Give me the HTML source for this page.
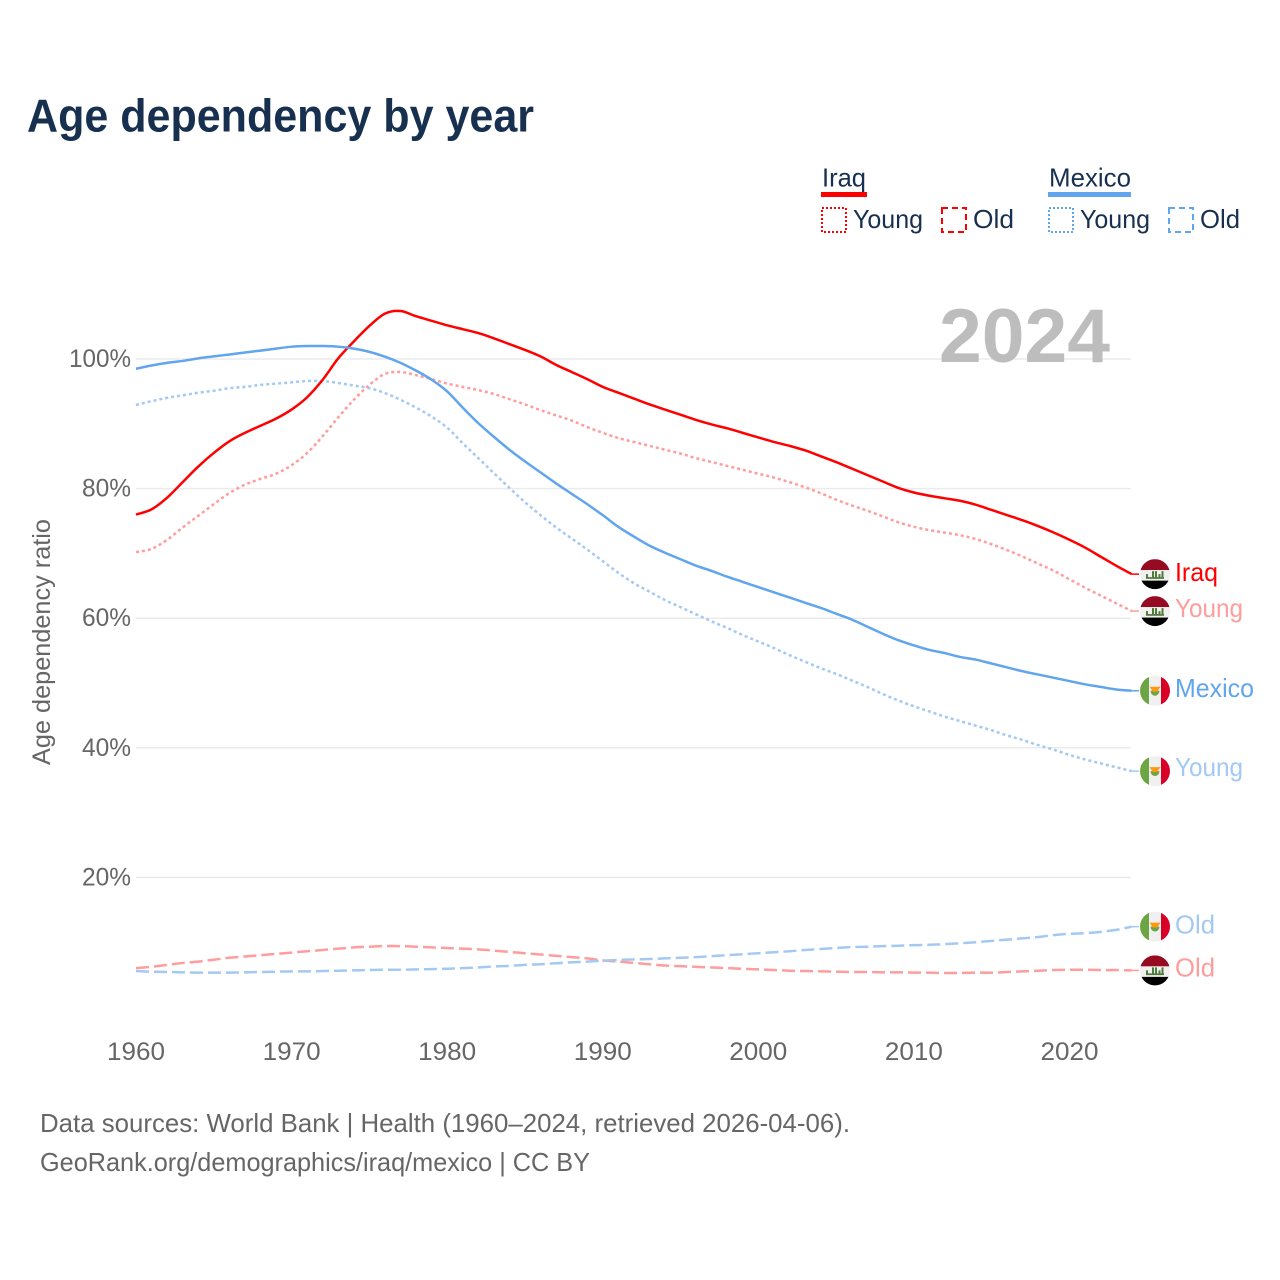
<!DOCTYPE html>
<html lang="en">
<head>
<meta charset="utf-8">
<title>Age dependency by year</title>
<style>
html,body{margin:0;padding:0;background:#fff;}
svg{display:block;font-family:"Liberation Sans",sans-serif;}
</style>
</head>
<body>
<svg id="chart" xmlns="http://www.w3.org/2000/svg" width="1280" height="1280" viewBox="0 0 1280 1280">
  <rect width="1280" height="1280" fill="#fff"/>
  <text x="27" y="131.5" font-size="46" font-weight="bold" fill="#18304f" textLength="507" lengthAdjust="spacingAndGlyphs">Age dependency by year</text>

  <g font-size="26" fill="#18304f">
    <text x="822" y="186.5" textLength="44" lengthAdjust="spacingAndGlyphs">Iraq</text>
    <rect x="821" y="192" width="46" height="5" fill="#ff0000"/>
    <rect x="822" y="208" width="24" height="24" fill="none" stroke="#ff0000" stroke-width="2" stroke-dasharray="2 2"/>
    <text x="853" y="228" textLength="70" lengthAdjust="spacingAndGlyphs">Young</text>
    <rect x="942" y="208" width="24" height="24" fill="none" stroke="#ff0000" stroke-width="2" stroke-dasharray="6 4"/>
    <text x="973" y="228" textLength="41" lengthAdjust="spacingAndGlyphs">Old</text>
    <text x="1049" y="186.5" textLength="82" lengthAdjust="spacingAndGlyphs">Mexico</text>
    <rect x="1048" y="192" width="83" height="5" fill="#60a5ee"/>
    <rect x="1049" y="208" width="24" height="24" fill="none" stroke="#60a5ee" stroke-width="2" stroke-dasharray="2 2"/>
    <text x="1080" y="228" textLength="70" lengthAdjust="spacingAndGlyphs">Young</text>
    <rect x="1169" y="208" width="24" height="24" fill="none" stroke="#60a5ee" stroke-width="2" stroke-dasharray="6 4"/>
    <text x="1200" y="228" textLength="40" lengthAdjust="spacingAndGlyphs">Old</text>
  </g>

  <g id="grid"></g>
  <text x="939" y="362" font-size="76" font-weight="bold" fill="#bdbdbd" textLength="171" lengthAdjust="spacingAndGlyphs">2024</text>
  <text transform="translate(50 642) rotate(-90)" text-anchor="middle" font-size="25" fill="#666" textLength="246" lengthAdjust="spacingAndGlyphs">Age dependency ratio</text>
  <g id="yticks"></g>
  <g id="xticks"></g>
  <g id="series"></g>
  <g id="ends"></g>

  <text x="40" y="1132" font-size="26" fill="#666" textLength="810" lengthAdjust="spacingAndGlyphs">Data sources: World Bank | Health (1960–2024, retrieved 2026-04-06).</text>
  <text x="40" y="1171" font-size="26" fill="#666" textLength="550" lengthAdjust="spacingAndGlyphs">GeoRank.org/demographics/iraq/mexico | CC BY</text>
</svg>
<script>
const firstYear = 1960;
const xTickYears = [1960, 1970, 1980, 1990, 2000, 2010, 2020];
const yTickValues = [20, 40, 60, 80, 100];
const iraqTotal = [76.0,76.8,78.6,81.0,83.4,85.5,87.3,88.6,89.7,90.8,92.2,94.1,96.8,100.1,102.7,105.1,107.0,107.4,106.6,105.9,105.2,104.6,104.0,103.2,102.3,101.4,100.4,99.1,98.0,96.9,95.7,94.8,93.9,93.0,92.2,91.4,90.6,89.9,89.3,88.6,87.9,87.2,86.6,85.9,85.0,84.1,83.1,82.1,81.1,80.1,79.4,78.9,78.5,78.1,77.5,76.7,75.9,75.1,74.2,73.2,72.1,70.9,69.5,68.1,66.8];
const iraqYoung = [70.2,70.7,72.1,74.0,75.8,77.6,79.3,80.6,81.5,82.3,83.6,85.5,88.1,91.0,93.7,96.0,97.7,98.0,97.5,96.9,96.2,95.7,95.2,94.6,93.8,93.0,92.1,91.3,90.5,89.5,88.6,87.8,87.2,86.6,86.0,85.4,84.7,84.1,83.5,82.9,82.3,81.7,81.0,80.2,79.3,78.3,77.4,76.6,75.7,74.8,74.1,73.6,73.2,72.8,72.2,71.4,70.5,69.5,68.4,67.3,66.0,64.7,63.5,62.3,61.1];
const iraqOld = [6.0,6.2,6.5,6.8,7.0,7.3,7.6,7.8,8.0,8.2,8.4,8.6,8.8,9.0,9.2,9.3,9.4,9.4,9.3,9.2,9.1,9.0,8.9,8.7,8.5,8.3,8.1,7.9,7.7,7.5,7.2,7.0,6.8,6.6,6.4,6.3,6.2,6.1,6.0,5.9,5.8,5.7,5.6,5.55,5.5,5.45,5.4,5.4,5.35,5.35,5.3,5.3,5.25,5.25,5.3,5.3,5.4,5.5,5.6,5.7,5.75,5.75,5.7,5.7,5.65];
const mexicoTotal = [98.5,99.0,99.4,99.7,100.1,100.4,100.7,101.0,101.3,101.6,101.9,102.0,102.0,101.9,101.6,101.1,100.35,99.4,98.2,96.8,95.0,92.5,90.1,88.0,86.0,84.2,82.5,80.8,79.2,77.6,75.9,74.1,72.6,71.2,70.1,69.1,68.1,67.3,66.4,65.6,64.8,64.0,63.2,62.4,61.6,60.7,59.8,58.7,57.6,56.6,55.8,55.1,54.6,54.0,53.6,53.0,52.4,51.8,51.3,50.8,50.3,49.8,49.4,49.0,48.8];
const mexicoYoung = [92.9,93.5,94.0,94.4,94.8,95.1,95.5,95.7,96.0,96.2,96.4,96.6,96.6,96.3,95.9,95.5,94.75,93.7,92.5,91.1,89.4,87.0,84.7,82.4,80.1,77.9,75.9,74.0,72.3,70.6,68.8,67.0,65.4,64.1,62.8,61.7,60.6,59.5,58.5,57.4,56.4,55.4,54.3,53.3,52.3,51.4,50.4,49.4,48.3,47.3,46.4,45.6,44.8,44.1,43.4,42.7,41.9,41.2,40.4,39.7,38.9,38.2,37.6,37.0,36.4];
const mexicoOld = [5.55,5.45,5.4,5.35,5.3,5.3,5.3,5.35,5.4,5.45,5.5,5.5,5.55,5.6,5.65,5.7,5.75,5.75,5.8,5.85,5.9,6.0,6.1,6.25,6.35,6.5,6.6,6.75,6.9,7.0,7.15,7.25,7.35,7.4,7.5,7.6,7.7,7.85,8.0,8.15,8.3,8.45,8.6,8.8,8.95,9.1,9.25,9.3,9.4,9.45,9.55,9.6,9.7,9.85,10.0,10.2,10.4,10.6,10.8,11.1,11.3,11.4,11.6,11.9,12.4];

const NS = 'http://www.w3.org/2000/svg';
const xScale = year => 136 + (year - 1960) * 15.558;
const yScale = value => 1007 - value * 6.48;

function mk(parent, tag, attrs) {
  const el = document.createElementNS(NS, tag);
  for (const k in attrs) el.setAttribute(k, attrs[k]);
  parent.appendChild(el);
  return el;
}

const gridGroup = document.getElementById('grid');
const yTickGroup = document.getElementById('yticks');
yTickValues.forEach(v => {
  const line = mk(gridGroup, 'line', {x1: 136, x2: 1131, y1: yScale(v), y2: yScale(v), stroke: '#ebebeb', 'stroke-width': 1.5});
  
  
  const t = mk(yTickGroup, 'text', {x: 131, y: yScale(v) + 8, 'text-anchor': 'end', 'font-size': 25, fill: '#666', textLength: v === 100 ? 62 : 49, lengthAdjust: 'spacingAndGlyphs'});
  t.textContent = v + '%';
  
  
});

const xTickGroup = document.getElementById('xticks');
xTickYears.forEach(y => {
  const t = mk(xTickGroup, 'text', {x: xScale(y), y: 1060, 'text-anchor': 'middle', 'font-size': 25, fill: '#666', textLength: 58, lengthAdjust: 'spacingAndGlyphs'});
  t.textContent = String(y);
  
  
});

const IRAQ_FAINT = '#ff9c9c';
const MEXICO_FAINT = '#a3c9f3';
const DOT = '3 3';
const DASH = '13 5';
const seriesGroup = document.getElementById('series');

function smoothPath(values) {
  const pts = values.map((v, i) => [xScale(firstYear + i), yScale(v)]);
  let d = 'M' + pts[0][0].toFixed(2) + ' ' + pts[0][1].toFixed(2);
  for (let i = 0; i < pts.length - 1; i++) {
    const p0 = pts[Math.max(i - 1, 0)], p1 = pts[i], p2 = pts[i + 1], p3 = pts[Math.min(i + 2, pts.length - 1)];
    const c1x = p1[0] + (p2[0] - p0[0]) / 6, c1y = p1[1] + (p2[1] - p0[1]) / 6;
    const c2x = p2[0] - (p3[0] - p1[0]) / 6, c2y = p2[1] - (p3[1] - p1[1]) / 6;
    d += ' C' + c1x.toFixed(2) + ' ' + c1y.toFixed(2) + ' ' + c2x.toFixed(2) + ' ' + c2y.toFixed(2) + ' ' + p2[0].toFixed(2) + ' ' + p2[1].toFixed(2);
  }
  return d;
}

function drawSeries(values, color, dash, width, name) {
  const p = mk(seriesGroup, 'path', {d: smoothPath(values), fill: 'none', stroke: color, 'stroke-width': width, 'stroke-linejoin': 'round'});
  if (dash) p.setAttribute('stroke-dasharray', dash);
  
  
  const lastY = yScale(values[values.length - 1]);
  const c = mk(seriesGroup, 'line', {x1: xScale(firstYear + values.length - 1), x2: 1139, y1: lastY, y2: lastY, stroke: color, 'stroke-width': 1.5});
  
  
}

drawSeries(iraqOld, IRAQ_FAINT, DASH, 2.5, 'line-iraq-old');
drawSeries(mexicoOld, MEXICO_FAINT, DASH, 2.5, 'line-mexico-old');
drawSeries(iraqYoung, IRAQ_FAINT, DOT, 2.5, 'line-iraq-young');
drawSeries(mexicoYoung, MEXICO_FAINT, DOT, 2.5, 'line-mexico-young');
drawSeries(iraqTotal, '#ff0000', null, 2.5, 'line-iraq-total');
drawSeries(mexicoTotal, '#60a5ee', null, 2.5, 'line-mexico-total');

const endGroup = document.getElementById('ends');
let clipCount = 0;

function drawFlag(country, cy, name) {
  const cx = 1155, r = 15;
  const id = 'flag-clip-' + (clipCount++);
  const clip = mk(endGroup, 'clipPath', {id: id});
  mk(clip, 'circle', {cx: cx, cy: cy, r: r});
  const g = mk(endGroup, 'g', {'clip-path': 'url(#' + id + ')'});
  
  
  if (country === 'iraq') {
    mk(g, 'rect', {x: cx - r, y: cy - r, width: 30, height: 11, fill: '#960a22'});
    mk(g, 'rect', {x: cx - r, y: cy - 4, width: 30, height: 10.5, fill: '#f0f0f0'});
    mk(g, 'rect', {x: cx - r, y: cy + 6.5, width: 30, height: 9, fill: '#000'});
    [[-9, 4], [-3, 7], [0, 7], [3.5, 4], [6.5, 7]].forEach(m => {
      mk(g, 'rect', {x: cx + m[0], y: cy + 4 - m[1], width: 2, height: m[1], fill: '#4f7a3a'});
    });
    mk(g, 'rect', {x: cx - 9, y: cy + 3, width: 18, height: 1.7, fill: '#4f7a3a'});
  } else {
    mk(g, 'rect', {x: cx - r, y: cy - r, width: 9, height: 30, fill: '#6da544'});
    mk(g, 'rect', {x: cx - 6, y: cy - r, width: 12, height: 30, fill: '#f0f0f0'});
    mk(g, 'rect', {x: cx + 6, y: cy - r, width: 9, height: 30, fill: '#d80027'});
    mk(g, 'path', {d: 'M' + (cx - 4.5) + ' ' + cy + ' a4.5 5 0 0 0 9 0 z', fill: '#6da544'});
    mk(g, 'path', {d: 'M' + (cx - 5.5) + ' ' + (cy - 4) + ' h11 l-3.5 5 h-4 z', fill: '#ff9811'});
  }
}

function drawEnd(country, values, label, color, labelWidth, labelOffset, name) {
  const y = yScale(values[values.length - 1]);
  drawFlag(country, y, name + '-flag');
  const t = mk(endGroup, 'text', {x: 1175, y: y + labelOffset, 'font-size': 26, fill: color, textLength: labelWidth, lengthAdjust: 'spacingAndGlyphs'});
  t.textContent = label;
  
  
}

drawEnd('iraq', iraqTotal, 'Iraq', '#ff0000', 43, 7, 'end-iraq-total');
drawEnd('iraq', iraqYoung, 'Young', IRAQ_FAINT, 68, 6, 'end-iraq-young');
drawEnd('mexico', mexicoTotal, 'Mexico', '#60a5ee', 79, 6, 'end-mexico-total');
drawEnd('mexico', mexicoYoung, 'Young', MEXICO_FAINT, 68, 5, 'end-mexico-young');
drawEnd('mexico', mexicoOld, 'Old', MEXICO_FAINT, 40, 7, 'end-mexico-old');
drawEnd('iraq', iraqOld, 'Old', IRAQ_FAINT, 40, 6, 'end-iraq-old');
</script>
</body>
</html>
